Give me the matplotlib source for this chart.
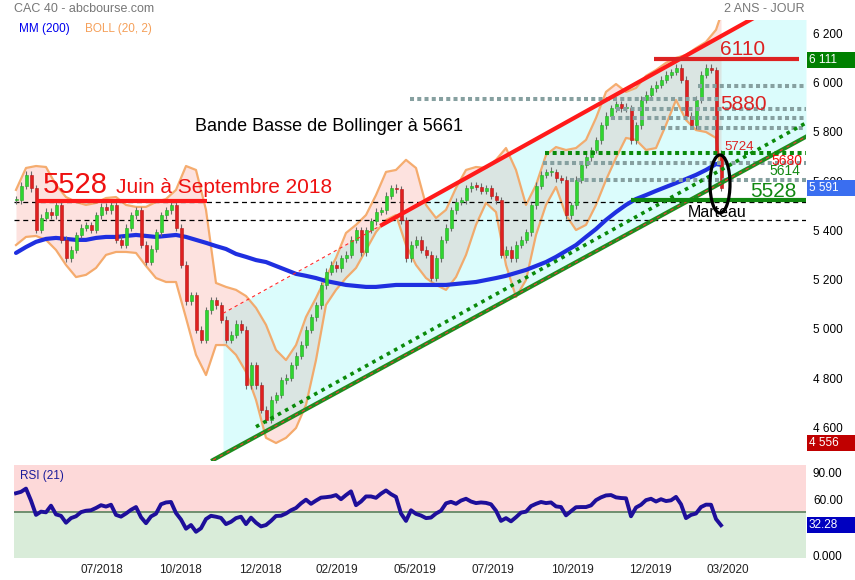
import numpy as np
import matplotlib
matplotlib.use("Agg")
import matplotlib.pyplot as plt
import matplotlib.transforms as mtransforms
from matplotlib.patches import Ellipse, Rectangle

plt.rcParams['font.family'] = ['Liberation Sans', 'DejaVu Sans']

# CAC 40 closes, one sample every ~3-4 sessions (03/2018 -> 02/2020)
closes = [5540, 5600, 5645, 5590, 5420, 5470, 5495, 5480, 5520, 5380,
          5305, 5340, 5400, 5430, 5440, 5420, 5480, 5515, 5500, 5520,
          5380, 5360, 5430, 5480, 5500, 5360, 5290, 5345, 5410, 5480,
          5500, 5520, 5430, 5280, 5130, 5155, 5015, 4975, 5095, 5135,
          5115, 5055, 4975, 4995, 5040, 5015, 4790, 4870, 4790, 4690,
          4650, 4730, 4750, 4810, 4820, 4870, 4910, 4955, 5015, 5065,
          5115, 5195, 5250, 5280, 5265, 5305, 5320, 5380, 5420, 5330,
          5420, 5455, 5495, 5500, 5560, 5590, 5585, 5460, 5305, 5360,
          5380, 5340, 5320, 5225, 5305, 5380, 5430, 5500, 5535, 5540,
          5590, 5600, 5595, 5580, 5590, 5560, 5540, 5320, 5340, 5305,
          5360, 5380, 5410, 5520, 5600, 5645, 5655, 5655, 5630, 5625,
          5480, 5520, 5625, 5685, 5715, 5745, 5785, 5845, 5885, 5915,
          5930, 5915, 5915, 5785, 5845, 5950, 5970, 5995, 6010, 6030,
          6050, 6062, 6080, 6030, 5885, 5845, 5950, 6050, 6080, 6070,
          5730, 5591]

# Bollinger (20, 2) and MM 200, read every second sample
band_idx = list(range(0, 141, 2)) + [141]
boll_up = [5583, 5672, 5680, 5676, 5603, 5554, 5534, 5522, 5530, 5550,
           5554, 5522, 5514, 5514, 5534, 5546, 5583, 5680, 5664, 5502,
           5205, 5189, 5177, 5152, 5104, 5035, 4933, 4892, 4953, 5067,
           5144, 5229, 5307, 5408, 5441, 5481, 5562, 5656, 5664, 5705,
           5672, 5522, 5469, 5502, 5591, 5664, 5676, 5672, 5705, 5753,
           5664, 5522, 5603, 5725, 5757, 5745, 5753, 5786, 5875, 5981,
           6013, 5981, 5997, 6046, 6070, 6099, 6119, 6131, 6159, 6184,
           6233, 6293]
boll_low = [5359, 5392, 5396, 5380, 5339, 5278, 5229, 5238, 5266, 5319,
            5331, 5331, 5327, 5274, 5225, 5209, 5209, 5063, 4913, 4831,
            4953, 4953, 4913, 4844, 4730, 4576, 4555, 4576, 4616, 4710,
            4892, 5116, 5177, 5225, 5266, 5339, 5412, 5461, 5481, 5359,
            5278, 5225, 5197, 5177, 5229, 5319, 5441, 5530, 5493, 5278,
            5148, 5217, 5400, 5522, 5595, 5481, 5420, 5441, 5522, 5623,
            5713, 5794, 5786, 5745, 5753, 5847, 5948, 5867, 5826, 5818,
            5794, 5661]
mm200 = [5327, 5351, 5372, 5384, 5388, 5384, 5380, 5380, 5388, 5392,
         5392, 5396, 5400, 5396, 5392, 5396, 5400, 5392, 5380, 5368,
         5355, 5343, 5323, 5311, 5298, 5290, 5274, 5258, 5242, 5234,
         5225, 5213, 5205, 5197, 5193, 5189, 5189, 5193, 5197, 5197,
         5197, 5197, 5197, 5197, 5201, 5205, 5209, 5217, 5225, 5234,
         5246, 5258, 5274, 5290, 5311, 5335, 5359, 5392, 5424, 5461,
         5493, 5522, 5546, 5562, 5579, 5595, 5611, 5627, 5644, 5664,
         5688, 5685]

# RSI (21), same samples as closes
rsi = [67, 68.5, 72, 59, 43.5, 47, 46.3, 53.5, 44, 42.5,
       35, 40, 42, 46.5, 48, 48.5, 51, 54, 52.5, 54.5,
       43.5, 41.6, 45, 49, 52, 41, 34.5, 41.8, 44.8, 55,
       57, 57.5, 45.5, 38.5, 28.5, 32.5, 25.2, 29, 39, 42.5,
       41.5, 40.2, 33.5, 36, 40, 41.5, 33.5, 40.5, 35, 31,
       32.5, 37, 42.3, 42.6, 45, 48.5, 51, 56, 60, 55.5,
       59, 62.2, 62.7, 63.4, 65, 60.5, 65, 69, 54, 58,
       63.5, 63.5, 62, 66.5, 70, 66, 63, 45, 37, 48.5,
       44.6, 42.8, 40, 40.6, 45, 48, 56, 57.7, 55.5, 59,
       61, 58, 56.3, 57, 56.5, 55, 48, 37, 40, 36.5,
       41, 46, 47, 53, 55.5, 57.5, 56.3, 57, 52.7, 52,
       43, 47.5, 51.8, 52, 52, 53.8, 59.5, 62.5, 64.6, 65,
       62.5, 61.8, 61.5, 42, 51.5, 54.5, 59.5, 61, 58, 60.5,
       58.5, 59.3, 63, 55, 40, 43.5, 45, 52, 54.6, 54.5,
       39, 32.28]
RSI_MID = 47

xtick_pos = [17.2, 32.8, 48.8, 64.2, 79.8, 95.4, 111.2, 126.8, 142.4]
xtick_labels = ['07/2018', '10/2018', '12/2018', '02/2019', '05/2019',
                '07/2019', '10/2019', '12/2019', '03/2020']
price_ticks = [4600, 4800, 5000, 5200, 5400, 5600, 5800, 6000, 6200]
rsi_ticks = [0, 30, 60, 90]
rsi_tick_labels = ['0.000', '30.00', '60.00', '90.00']

# trend lines as (sample index, price)
up_channel = [(73.2, 5441), (146.2, 6266)]
low_channel = [(39.4, 4486), (158, 5799)]
low_dotted = [(48, 4621), (158, 5855)]

# grey dotted resistances: (level, start, end)
grey_levels = [(6005, 136.4, 158), (5951, 78.8, 140.8), (5910, 120, 158),
               (5874, 119, 158), (5836, 129, 158), (5691, 105.4, 158),
               (5623, 110.8, 158)]

last_close = 5591
period_high = 6111
period_low = 4556


def line_at(pts, x):
    (x0, y0), (x1, y1) = pts
    return y0 + (y1 - y0) * (np.asarray(x, dtype=float) - x0) / (x1 - x0)


def value_box(a, val, label, col, h):
    tr = a.get_yaxis_transform()
    a.add_patch(Rectangle((1 + 1 / 792, val - h / 2), 48 / 792, h, transform=tr,
                          fc=col, ec='none', clip_on=False, zorder=11))
    a.text(1 + 3 / 792, val, label, transform=tr, color='white', fontsize=8.5,
           va='center', ha='left', clip_on=False, zorder=12)


fig = plt.figure(figsize=(8.55, 5.8), dpi=100)
ax = fig.add_axes([14 / 855, 1 - 461 / 580, 792 / 855, 441 / 580])
rax = fig.add_axes([14 / 855, 1 - 558 / 580, 792 / 855, 93 / 580])

for a in (ax, rax):
    for s in a.spines.values():
        s.set_visible(False)
    a.set_xlim(-0.4, 158)

ax.set_ylim(4482, 6273)
ax.set_xticks([])

# Bollinger band fill + channel overlay
ax.fill_between(band_idx, boll_low, boll_up, color='#fde2df', lw=0, zorder=1)
cx = np.array([41.4, 158])
ax.fill_between(cx, line_at(low_channel, cx), line_at(up_channel, cx),
                color='#58f1f1', alpha=0.21, lw=0, zorder=2)
ax.plot(band_idx, boll_up, color='#f4a460', lw=1.6, alpha=0.9, zorder=3)
ax.plot(band_idx, boll_low, color='#f4a460', lw=1.6, alpha=0.9, zorder=3)

# black dashed supports
for lvl in (5535, 5460):
    ax.axhline(lvl, color='black', lw=0.9, ls=(0, (4, 3)), zorder=3)

# MM 200
ax.plot(band_idx, mm200, color='#1f2fe0', lw=3, solid_capstyle='round', zorder=4)

# candles
x = np.arange(len(closes))
c = np.array(closes, dtype=float)
o = np.concatenate([[c[0]], c[:-1]])
up = c >= o
body = np.where(np.abs(c - o) < 6, 6, np.abs(c - o))
lo = np.minimum(o, c)
ax.vlines(x, lo - 14, lo + body + 14, color='#6b6b6b', lw=0.8, zorder=5)
ax.bar(x[up], body[up], bottom=lo[up], width=0.6, color='#2fd62f',
       edgecolor='#2aa52a', lw=0.4, zorder=6)
ax.bar(x[~up], body[~up], bottom=lo[~up], width=0.6, color='#e02020',
       edgecolor='#b01818', lw=0.4, zorder=6)

# channel lines
ux = np.array([73.2, 150])
ax.plot(ux, line_at(up_channel, ux), color='#ff1a1a', lw=3, zorder=7)
dx = np.array([41.4, 73.2])
ax.plot(dx, line_at(up_channel, dx), color='#ff2a2a', lw=0.8, ls=(0, (3, 3)), zorder=7)
gx = np.array([39.4, 158])
ax.plot(gx, line_at(low_channel, gx), color='#1e8c1e', lw=3, zorder=7)
ax.plot(gx, line_at(low_channel, gx), color='#ff3333', lw=0.8, ls=(0, (3, 4)), zorder=7)
gdx = np.array([48, 158])
ax.plot(gdx, line_at(low_dotted, gdx), color='#0a8a0a', lw=2.6, ls=(0, (1, 1.3)), zorder=7)

# horizontal levels
for lvl, x0, x1 in grey_levels:
    ax.hlines(lvl, x0, x1, color='#86a0a0', lw=2.9, ls=(0, (1, 0.8)), zorder=6)
ax.hlines(5734, 105.8, 158, color='#0a8a0a', lw=2.9, ls=(0, (1, 0.9)), zorder=7)
ax.hlines(5538, 4.2, 38.2, color='#ff1a1a', lw=3, zorder=7)
ax.hlines(5541, 123, 158, color='#118811', lw=3, zorder=7)
ax.hlines(6115, 127.6, 156.6, color='#dd2222', lw=3, zorder=7)

# annotations
ax.text(5.3, 5569, '5528', color='#ee1111', fontsize=21, va='baseline', zorder=9)
ax.text(19.9, 5572, 'Juin à Septembre 2018', color='#ee1111', fontsize=15,
        va='baseline', zorder=9)
ax.text(35.8, 5822, 'Bande Basse de Bollinger à 5661', color='black', fontsize=13,
        va='baseline', zorder=9)
ax.text(140.8, 6131, '6110', color='#dd2222', fontsize=15, va='baseline', zorder=9)
ax.text(140.8, 5908, '5880', color='#dd2222', fontsize=15, va='baseline', zorder=9)
ax.text(141.6, 5745, '5724', color='#dd2222', fontsize=9.5, va='baseline', zorder=9)
ax.text(151, 5684, '5680', color='#ee1111', fontsize=10, va='baseline', zorder=9)
ax.text(150.6, 5644, '5614', color='#118811', fontsize=10, va='baseline', zorder=9)
ax.text(146.8, 5553, '5528', color='#118811', fontsize=15, va='baseline', zorder=9)
ax.text(134.4, 5474, 'Marteau', color='black', fontsize=11.5, va='baseline', zorder=9)
ax.add_patch(Ellipse((140.8, 5607), 4, 236, fill=False, ec='black', lw=2.3, zorder=10))

# right price scale
ax.yaxis.tick_right()
ax.set_yticks(price_ticks)
ax.set_yticklabels([f'{v:,}'.replace(',', ' ') for v in price_ticks])
ax.tick_params(axis='y', length=0, pad=5, labelsize=8.5, labelcolor='black')
shift = mtransforms.ScaledTranslation(0, 4.5 / 100, fig.dpi_scale_trans)
for lab in ax.get_yticklabels():
    lab.set_transform(lab.get_transform() + shift)

for val, col in ((period_high, '#008000'), (last_close, '#3a6ef0'), (period_low, '#c00000')):
    value_box(ax, val, f'{val:,}'.replace(',', ' '), col, 66)

# RSI panel
rax.set_ylim(-3.25, 97.6)
rax.axhspan(RSI_MID, 100, color='#fdd9d9', lw=0, zorder=0)
rax.axhspan(-5, RSI_MID, color='#d9ecd9', lw=0, zorder=0)
rax.axhline(RSI_MID, color='#6f8f6f', lw=1.4, zorder=1)
rax.plot(np.arange(len(rsi)), rsi, color='#1e0f9a', lw=2.8, zorder=3)
rax.yaxis.tick_right()
rax.set_yticks(rsi_ticks)
rax.set_yticklabels(rsi_tick_labels)
rax.tick_params(axis='y', length=0, pad=5, labelsize=8.5)
rax.set_xticks(xtick_pos)
rax.set_xticklabels(xtick_labels)
rax.tick_params(axis='x', length=0, pad=4, labelsize=8.5, labelcolor='#222222')
value_box(rax, rsi[-1], f'{rsi[-1]:.2f}', '#0000c0', 17.4)
rax.text(6 / 792, 0.88, 'RSI (21)', transform=rax.transAxes, color='#1a1a9a',
         fontsize=8.5, va='center')

# header
fig.text(14 / 855, 1 - 9 / 580, 'CAC 40 - abcbourse.com', color='#777777',
         fontsize=9, va='center')
fig.text(805 / 855, 1 - 9 / 580, '2 ANS - JOUR', color='#777777', fontsize=9,
         va='center', ha='right')
fig.text(19 / 855, 1 - 29 / 580, 'MM (200)', color='#0000ee', fontsize=8.5, va='center')
fig.text(85 / 855, 1 - 29 / 580, 'BOLL (20, 2)', color='#f5a05a', fontsize=8.5, va='center')

fig.savefig('out.png', dpi=100)
